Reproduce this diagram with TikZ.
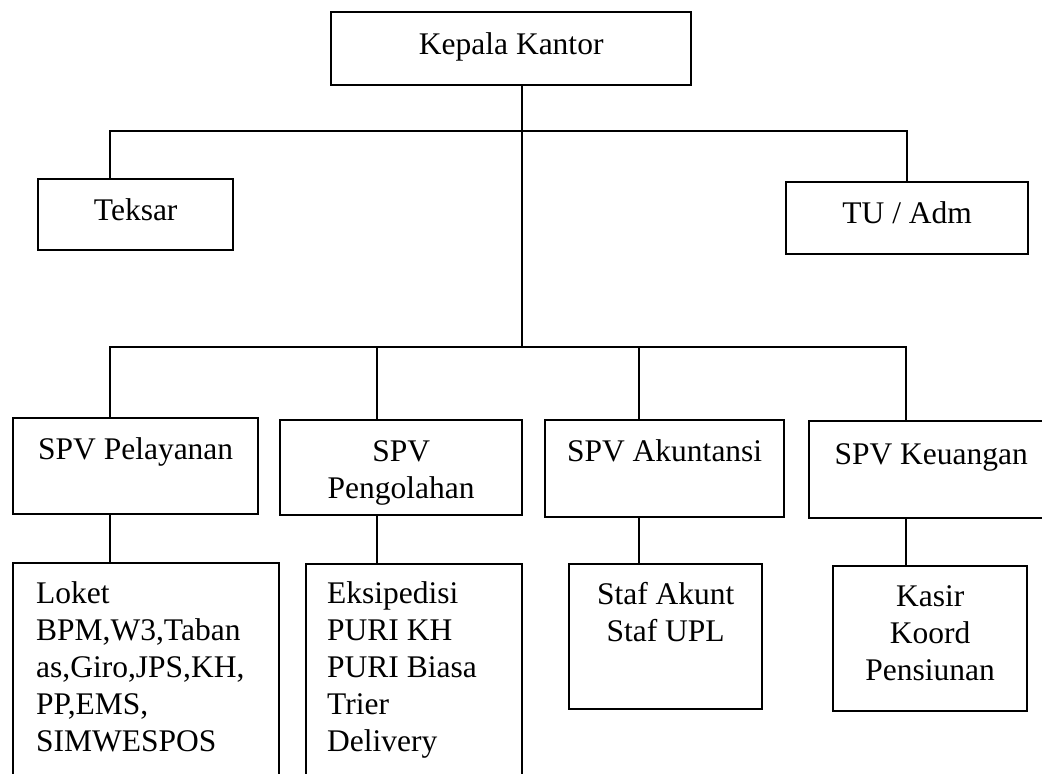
\documentclass[tikz,border=0pt]{standalone}
\usepackage{fontspec}
\setmainfont{Liberation Serif}
\newdimen\upx \upx=0.5pt
% #1 width, #2 height, #3 top pad, #4 alignment, #5 text (all sizes in px)
\newcommand\orgbox[5]{\parbox[t][#2\upx][t]{#1\upx}{\vspace*{#3\upx}#4\strut#5\par}}
\newcommand\ctr{\centering}
\newcommand\lftA{\raggedright\leftskip=23\upx}
\newcommand\lftB{\raggedright\leftskip=21\upx}
\begin{document}
\begin{tikzpicture}[x=0.5pt,y=-0.5pt,
  orgnode/.style={draw, line width=1.2pt, inner sep=0pt, anchor=north west,
    font=\fontsize{15.75}{18.5}\selectfont},
  link/.style={line width=0.9pt}]
\useasboundingbox (0,0) rectangle (1042,773);
\clip (0,0) rectangle (1042,773);
\fill[white] (0,0) rectangle (1042,773);

% top
\node[orgnode] (kepala) at (330,11) {\orgbox{360}{73}{16}{\ctr}{Kepala Kantor}};
\node[orgnode] (teksar) at (37,178) {\orgbox{195}{71}{15}{\ctr}{Teksar}};
\node[orgnode] (tuadm) at (785,181) {\orgbox{242}{72}{15}{\ctr}{TU / Adm}};

% supervisors
\node[orgnode] (pel) at (12,417) {\orgbox{245}{96}{15}{\ctr}{SPV Pelayanan}};
\node[orgnode] (pen) at (279,419) {\orgbox{242}{95}{15}{\ctr}{SPV\\Pengolahan}};
\node[orgnode] (aku) at (544,419) {\orgbox{239}{97}{15}{\ctr}{SPV Akuntansi}};
\node[orgnode] (keu) at (808,420) {\orgbox{244}{97}{17}{\ctr}{SPV Keuangan}};

% staff
\node[orgnode] (loket) at (12,562) {\orgbox{266}{240}{14}{\lftA}{Loket\\BPM,W3,Taban\\as,Giro,JPS,KH,\\PP,EMS,\\SIMWESPOS}};
\node[orgnode] (eks) at (305,563) {\orgbox{216}{240}{13}{\lftB}{Eksipedisi\\PURI KH\\PURI Biasa\\Trier\\Delivery}};
\node[orgnode] (staf) at (568,563) {\orgbox{193}{145}{14}{\ctr}{Staf Akunt\\Staf UPL}};
\node[orgnode] (kasir) at (832,565) {\orgbox{194}{145}{14}{\ctr}{Kasir\\Koord\\Pensiunan}};

% junction coordinates
\coordinate (tl) at (110,131);
\coordinate (tm) at (522,131);
\coordinate (tr) at (907,131);
\coordinate (c1) at (110,347);
\coordinate (c2) at (377,347);
\coordinate (cm) at (522,347);
\coordinate (c3) at (639,347);
\coordinate (c4) at (906,347);

% connectors
\draw[link] (kepala.south -| tm) -- (cm);
\draw[link] (teksar.north -| tl) -- (tl) -- (tr) -- (tuadm.north -| tr);
\draw[link] (pel.north -| c1) -- (c1) -- (c4) -- (keu.north -| c4);
\draw[link] (c2) -- (pen.north -| c2);
\draw[link] (c3) -- (aku.north -| c3);

\draw[link] (pel.south -| c1) -- (loket.north -| c1);
\draw[link] (pen.south -| c2) -- (eks.north -| c2);
\draw[link] (aku.south -| c3) -- (staf.north -| c3);
\draw[link] (keu.south -| c4) -- (kasir.north -| c4);
\end{tikzpicture}
\end{document}
